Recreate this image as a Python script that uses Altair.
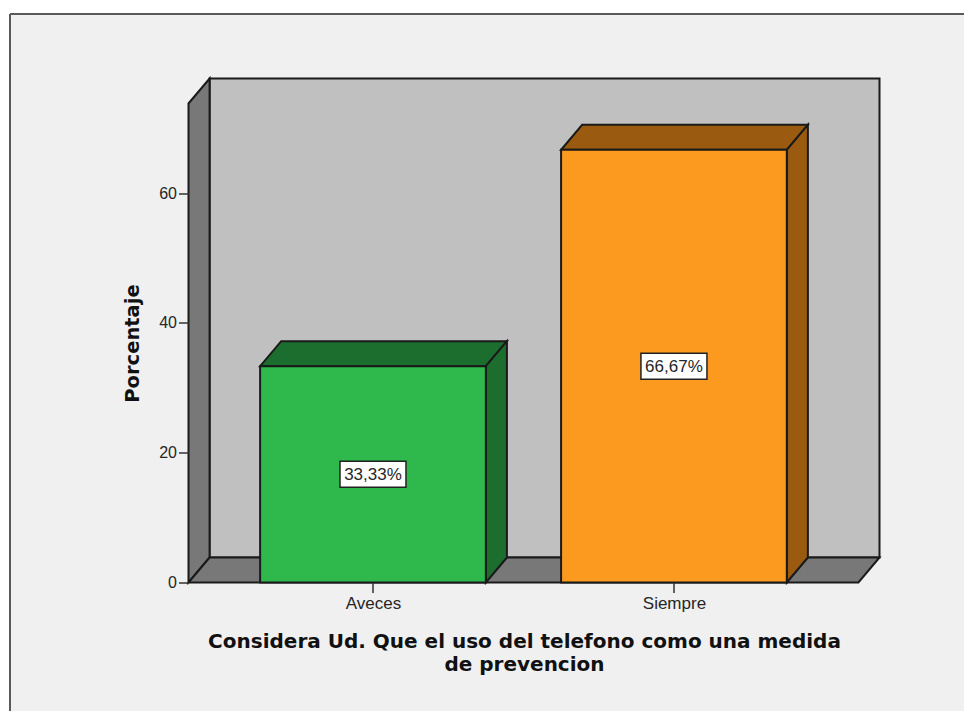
import altair as alt
import pandas as pd

CATEGORIES = ["Aveces", "Siempre"]
PERCENTS = [33.33, 66.67]
LABELS = ["33,33%", "66,67%"]
POSITIONS = [0, 1]
Y_TICKS = [0, 20, 40, 60]

FRONT = {"Aveces": "#2fb84c", "Siempre": "#fb9a1f"}
SHADE = {"Aveces": "#1c6e2e", "Siempre": "#9a5b10"}
WALL = "#c0c0c0"
SIDE = "#787878"
PANEL = "#f0f0f0"
INK = "#1a1a1a"
TEXT = "#262626"
FONT = "Liberation Sans"
TITLE_FONT = "DejaVu Sans"

# axis geometry in data units
X_MIN, X_MAX = -0.613, 1.683
Y_MAX = 77.66
DX, DY = 0.07, 3.85
HALF = 0.375

xs = alt.Scale(domain=[X_MIN, X_MAX], nice=False, zero=False)
ys = alt.Scale(domain=[0, Y_MAX], nice=False, zero=False)
XAXIS = alt.Axis(
    values=POSITIONS, grid=False, domain=False, tickSize=10, tickWidth=1.5, tickColor="#333333",
    labelExpr="datum.value == 0 ? 'Aveces' : 'Siempre'", labelFont=FONT, labelFontSize=17,
    labelColor=TEXT, labelPadding=3, labelFlush=False, zindex=1,
    title=["Considera Ud. Que el uso del telefono como una medida", "de prevencion"],
    titleFont=TITLE_FONT, titleFontSize=20, titleFontWeight="bold", titleColor="#111111",
    titleX=335.5, titleY=48.5, titleAnchor="middle", titleAlign="center", titleLineHeight=23,
)
YAXIS = alt.Axis(
    values=Y_TICKS, grid=False, domain=False, tickSize=10, tickWidth=1.5, tickColor="#333333",
    labelFont=FONT, labelFontSize=16, labelColor=TEXT, labelPadding=2, zindex=1,
    title="Porcentaje", titleFont=TITLE_FONT, titleFontSize=19.5, titleFontWeight="bold",
    titleColor="#111111", titleX=-56, titleY=264.5, titleAngle=270,
    titleAlign="center", titleBaseline="middle",
)
EX = alt.X("x:Q", scale=xs, axis=XAXIS)
EY = alt.Y("y:Q", scale=ys, axis=YAXIS)


def face(points, fill):
    df = pd.DataFrame(points, columns=["x", "y", "y2"])
    return alt.Chart(df).mark_area(
        orient="vertical", fill=fill, stroke=INK, strokeWidth=2, strokeJoin="miter"
    ).encode(x=EX, y=EY, y2="y2:Q")


def box(x, x2, y, y2, fill):
    df = pd.DataFrame([{"x": x, "x2": x2, "y": y, "y2": y2}])
    return alt.Chart(df).mark_rect(fill=fill, stroke=INK, strokeWidth=2).encode(
        x=EX, x2="x2:Q", y=EY, y2="y2:Q"
    )


layers = []

# page panel and its top / left border
panel = alt.Chart(pd.DataFrame([{"a": 0}])).mark_rect(fill=PANEL).encode(
    x=alt.value(-178.5), x2=alt.value(800), y=alt.value(-64.5), y2=alt.value(640)
)
top_line = alt.Chart(pd.DataFrame([{"a": 0}])).mark_rule(color="#5a5a5a", strokeWidth=2).encode(
    x=alt.value(-178.5), x2=alt.value(800), y=alt.value(-64.5)
)
left_line = alt.Chart(pd.DataFrame([{"a": 0}])).mark_rule(color="#5a5a5a", strokeWidth=2).encode(
    x=alt.value(-178.5), y=alt.value(-64.5), y2=alt.value(640)
)
layers += [panel, top_line, left_line]

# back wall, left wall, floor
layers.append(box(X_MIN + DX, X_MAX, DY, Y_MAX, WALL))
layers.append(face([(X_MIN, 0, Y_MAX - DY), (X_MIN + DX, DY, Y_MAX)], SIDE))
layers.append(face([(X_MIN, 0, 0), (X_MIN + DX, 0, DY), (X_MAX - DX, 0, DY), (X_MAX, DY, DY)], SIDE))

# bars
for cat, pos, val in zip(CATEGORIES, POSITIONS, PERCENTS):
    L, R = pos - HALF, pos + HALF
    layers.append(face([(L, val, val), (L + DX, val, val + DY), (R, val, val + DY), (R + DX, val + DY, val + DY)], SHADE[cat]))
    layers.append(face([(R, 0, val), (R + DX, DY, val + DY)], SHADE[cat]))
    layers.append(box(L, R, 0, val, FRONT[cat]))

# value labels
labels = pd.DataFrame({"x": POSITIONS, "y": [p / 2 for p in PERCENTS], "t": LABELS})
layers.append(alt.Chart(labels).mark_rect(fill="white", stroke="#222222", strokeWidth=1.5, width=66, height=26).encode(x=EX, y=EY))
layers.append(alt.Chart(labels).mark_text(font=FONT, fontSize=17, color=TEXT, align="center", baseline="middle", dy=1).encode(x=EX, y=EY, text="t:N"))

chart = alt.layer(*layers).resolve_scale(x="shared", y="shared").properties(
    width=691, height=504,
    padding={"left": 180.5, "top": 70.5, "right": 84.5, "bottom": 128.5},
    autosize=alt.AutoSizeParams(type="none"),
    background="white",
).configure_view(stroke=None)

chart.save("out.html", embed_options={"renderer": "svg", "actions": False})
